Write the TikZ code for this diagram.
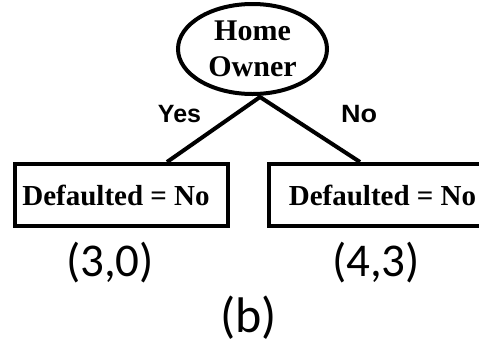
\documentclass[tikz,border=0pt]{standalone}
\usepackage{fontspec}
\usepackage{graphicx}
\setmainfont{Liberation Serif}
\newfontfamily\arialfont{Liberation Sans}
\newfontfamily\calibrifont{Carlito}
\usetikzlibrary{shapes.geometric,calc}
% horizontal stretch of a piece of text
\newcommand\hs[2]{\scalebox{#1}[1]{#2}}
\begin{document}
\begin{tikzpicture}[x=1pt,y=-1pt,
  edge/.style={line width=4pt},
  decision/.style={ellipse, draw, line width=4pt, minimum width=149pt,
    minimum height=90pt, inner sep=0pt, align=center,
    font=\bfseries\fontsize{30}{36}\selectfont},
  leaf/.style={rectangle, draw, line width=4pt, minimum height=62pt,
    inner sep=0pt, font=\bfseries\fontsize{29}{32}\selectfont},
  branch/.style={anchor=base, inner sep=0pt,
    font=\arialfont\bfseries\fontsize{25}{28}\selectfont},
  count/.style={anchor=base, inner sep=0pt,
    font=\calibrifont\fontsize{47}{54}\selectfont},
]
\path[use as bounding box, clip] (0,0) rectangle (479,346);

% root test
\node[decision] (root) at (252.5,49) {Home\\Owner};

% leaves
\node[leaf, minimum width=213pt] (lbox) at (121.5,195)
  {Defaulted = No\hspace*{11pt}};
\node[leaf, minimum width=227pt] (rbox) at (382.5,195)
  {Defaulted = No};

% branches
\draw[edge] ($(lbox.north)+(45.5,0)$) -- ($(root.south)+(7.5,1)$)
  -- ($(rbox.north)+(-22.5,0)$);

% branch labels
\node[branch] (yes) at (179.5,122) {Yes};
\node[branch] (no) at (359,122) {\hs{1.08}{No}};

% class counts
\node[count] (lcount) at (110,276) {(3,0)};
\node[count] (rcount) at (376,276) {(4,3)};

% caption
\node[count, font=\calibrifont\fontsize{50}{58}\selectfont] (caption)
  at (248.5,332) {(b)};
\end{tikzpicture}
\end{document}
